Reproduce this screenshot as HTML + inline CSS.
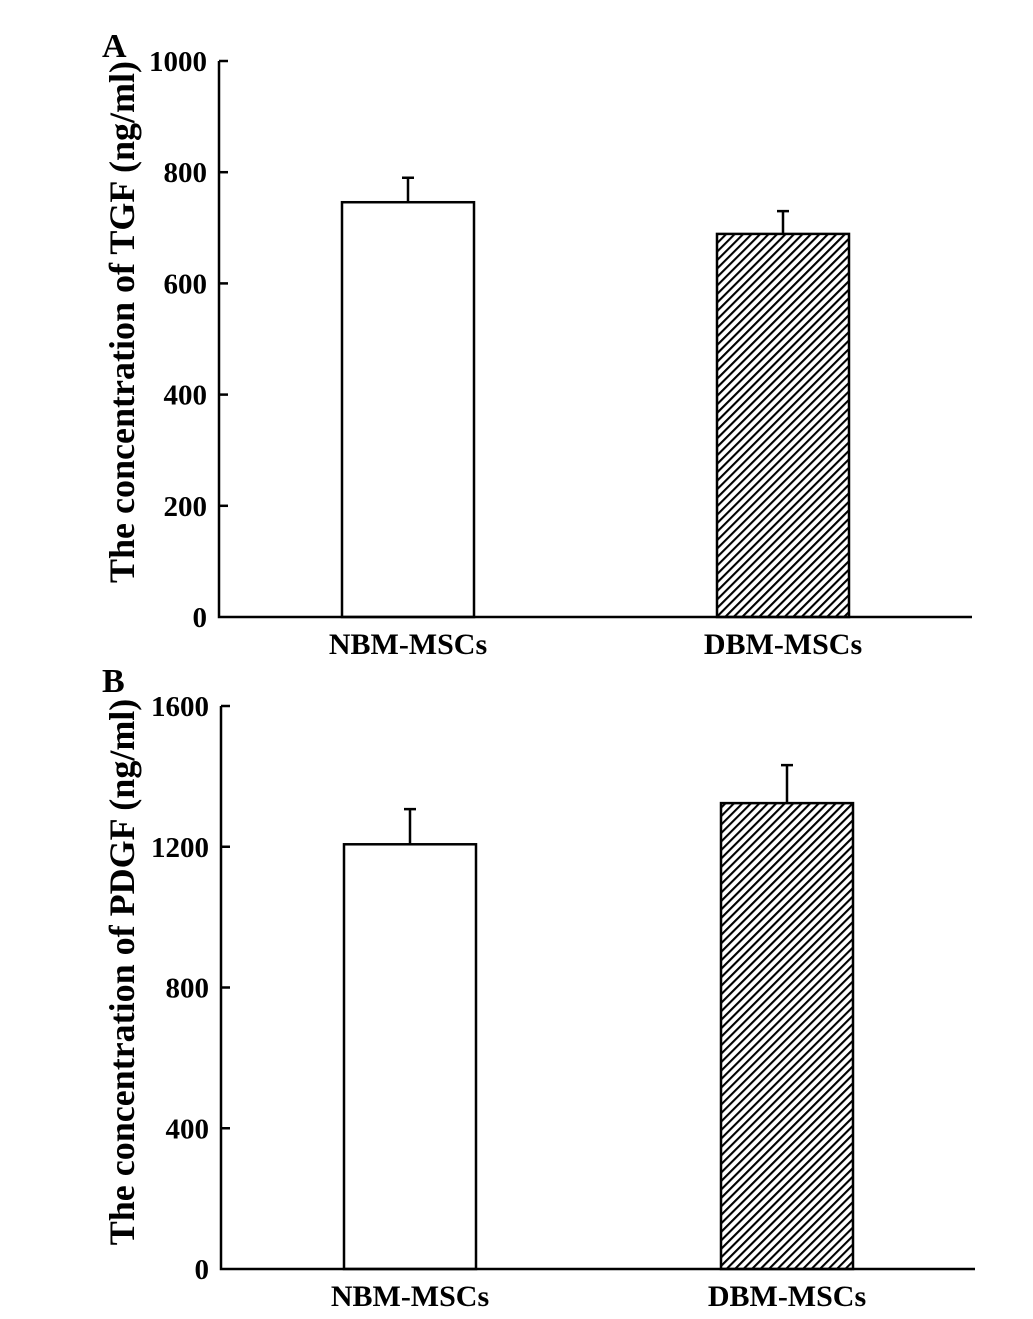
<!DOCTYPE html>
<html><head><meta charset="utf-8"><style>
html,body{margin:0;padding:0;background:#fff;}
svg text{font-family:"Liberation Serif",serif;font-weight:bold;fill:#000;}
</style></head><body>
<svg id="fig" width="1033" height="1314" viewBox="0 0 1033 1314" xmlns="http://www.w3.org/2000/svg">
<defs>
<pattern id="hatch" patternUnits="userSpaceOnUse" width="6" height="6" patternTransform="rotate(45)">
<rect width="6" height="6" fill="#fff"/>
<rect x="0" y="0" width="2.1" height="6" fill="#000"/>
</pattern>
</defs>
</svg>
<script>
const categories = ["NBM-MSCs","DBM-MSCs"];
const tgfValues = [746, 689];
const tgfErrors = [44, 41];
const tgfTicks = [0,200,400,600,800,1000];
const pdgfValues = [1207, 1324];
const pdgfErrors = [100, 108];
const pdgfTicks = [0,400,800,1200,1600];

const svg = document.getElementById('fig');
const NS = 'http://www.w3.org/2000/svg';
function mk(tag, attrs, parent){
  const e = document.createElementNS(NS, tag);
  for (const k in attrs) e.setAttribute(k, attrs[k]);
  (parent||svg).appendChild(e);
  return e;
}
function panel(cfg){
  const g = mk('g', {});
  
  
  const max = cfg.ticks[cfg.ticks.length-1];
  const y = v => cfg.y0 - (v/max)*(cfg.y0-cfg.yTop);
  const barX = i => cfg.barX[i];
  cfg.values.forEach((v,i)=>{
    const bx = barX(i), by = y(v);
    const r = mk('rect', {x:bx, y:by, width:cfg.barW, height:cfg.y0-by, fill: i===0?'#fff':'url(#hatch)', stroke:'#000','stroke-width':2.5}, g);
    
    
    const cx = bx + cfg.barW/2, ey = y(v + cfg.errors[i]);
    const eb = mk('path', {d:`M${cx},${by} V${ey} M${cx-6},${ey} H${cx+6}`, stroke:'#000','stroke-width':2.5, fill:'none'}, g);
    
    
  });
  const ax = mk('path', {d:`M${cfg.x0},${cfg.yTop} V${cfg.y0} H${cfg.xEnd}`, stroke:'#000','stroke-width':2.5, fill:'none'}, g);
  
  
  cfg.ticks.forEach(t=>{
    const ty = y(t);
    if (t>0) {
      const tk = mk('line', {x1:cfg.x0, x2:cfg.x0+9, y1:ty, y2:ty, stroke:'#000','stroke-width':2.5}, g);
      
      
    }
    const tl = mk('text', {x:cfg.x0-12, y:ty+10, 'text-anchor':'end','font-size':29}, g);
    tl.textContent = t;
    
    
  });
  categories.forEach((c,i)=>{
    const tl = mk('text', {x:barX(i)+cfg.barW/2, y:cfg.y0+37, 'text-anchor':'middle','font-size':30}, g);
    tl.textContent = c;
    
    
  });
  const yt = mk('text', {x:0, y:0, 'text-anchor':'middle','font-size':36, transform:`translate(${cfg.titleX},${cfg.titleY}) rotate(-90)`}, g);
  yt.textContent = cfg.title;
  
  
  const pl = mk('text', {x:cfg.labelX, y:cfg.labelY, 'font-size':34}, g);
  pl.textContent = cfg.label;
  
  
}
panel({name:'panel-a-tgf', values:tgfValues, errors:tgfErrors, ticks:tgfTicks, x0:219, xEnd:972, yTop:61, y0:617, barX:[342,717], barW:132, title:'The concentration of TGF (ng/ml)', titleX:134, titleY:322, label:'A', labelX:102, labelY:57});
panel({name:'panel-b-pdgf', values:pdgfValues, errors:pdgfErrors, ticks:pdgfTicks, x0:221, xEnd:975, yTop:706, y0:1269, barX:[344,721], barW:132, title:'The concentration of PDGF (ng/ml)', titleX:134, titleY:972, label:'B', labelX:102, labelY:692});
</script>
</body></html>
